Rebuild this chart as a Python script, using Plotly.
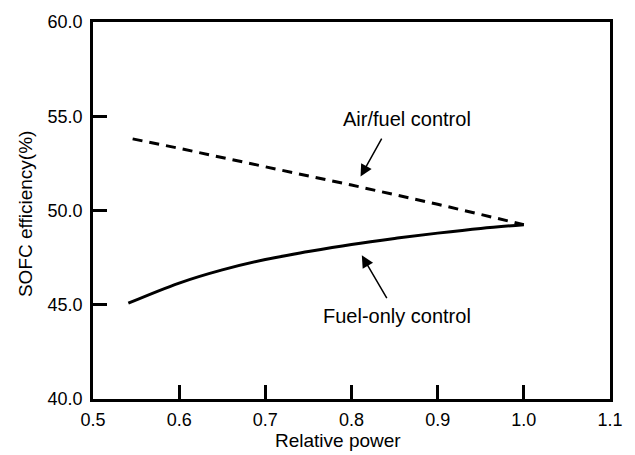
import plotly.graph_objects as go

# Data
fuel_only_x = [0.541, 0.60, 0.65, 0.70, 0.75, 0.80, 0.85, 0.90, 0.95, 1.00]
fuel_only_y = [45.08, 46.15, 46.85, 47.40, 47.82, 48.20, 48.52, 48.80, 49.05, 49.25]

air_fuel_x = [0.546, 0.60, 0.70, 0.80, 0.90, 1.00]
air_fuel_y = [53.80, 53.30, 52.32, 51.35, 50.33, 49.25]

x_ticks = [0.5, 0.6, 0.7, 0.8, 0.9, 1.0, 1.1]
x_tick_labels = ["0.5", "0.6", "0.7", "0.8", "0.9", "1.0", "1.1"]
y_ticks = [40, 45, 50, 55, 60]
y_tick_labels = ["40.0", "45.0", "50.0", "55.0", "60.0"]

FONT = "Liberation Sans, Arial, sans-serif"
L, R, T, B = 93, 611, 16, 399
PW, PH = R - L, B - T

fig = go.Figure()
fig.add_trace(go.Scatter(x=air_fuel_x, y=air_fuel_y, mode="lines",
                         line=dict(color="black", width=3, dash="10px,7px"),
                         showlegend=False))
fig.add_trace(go.Scatter(x=fuel_only_x, y=fuel_only_y, mode="lines",
                         line=dict(color="black", width=3, shape="spline"),
                         showlegend=False))

# Text labels
fig.add_annotation(x=0.864, y=54.83, text="Air/fuel control", showarrow=False,
                   font=dict(family=FONT, size=20, color="black"))
fig.add_annotation(x=0.853, y=44.39, text="Fuel-only control", showarrow=False,
                   font=dict(family=FONT, size=20, color="black"))
# Arrows
fig.add_annotation(x=0.8105, y=51.8, ax=0.836, ay=53.89, axref="x", ayref="y",
                   text="", showarrow=True, arrowhead=2, arrowsize=1.6,
                   arrowwidth=1.5, arrowcolor="black")
fig.add_annotation(x=0.812, y=47.62, ax=0.842, ay=45.27, axref="x", ayref="y",
                   text="", showarrow=True, arrowhead=2, arrowsize=1.6,
                   arrowwidth=1.5, arrowcolor="black")

# Axis titles
fig.add_annotation(xref="paper", yref="paper", x=(338 - L) / PW, y=-(441 - B) / PH,
                   xanchor="center", yanchor="middle", text="Relative power",
                   showarrow=False, font=dict(family=FONT, size=19, color="black"))
fig.add_annotation(xref="paper", yref="paper", x=-(L - 26) / PW,
                   y=(B - 211) / PH, text="SOFC efficiency(%)",
                   textangle=-90, showarrow=False, xanchor="center", yanchor="middle",
                   font=dict(family=FONT, size=19, color="black"))

fig.update_xaxes(range=[0.5, 1.1], tickvals=x_ticks, ticktext=x_tick_labels,
                 ticks="inside", ticklen=14, tickwidth=2.5, tickcolor="black",
                 showline=True, linewidth=2.5, linecolor="black", mirror=True,
                 showgrid=False, zeroline=False, ticklabelstandoff=3,
                 tickfont=dict(family=FONT, size=18, color="black"))
fig.update_yaxes(range=[40, 60], tickvals=y_ticks, ticktext=y_tick_labels,
                 ticks="inside", ticklen=14, tickwidth=2.5, tickcolor="black",
                 showline=True, linewidth=2.5, linecolor="black", mirror=True,
                 showgrid=False, zeroline=False, ticklabelstandoff=4,
                 tickfont=dict(family=FONT, size=18, color="black"))

fig.update_layout(width=635, height=455, margin=dict(l=L, r=635 - R, t=T, b=455 - B),
                  plot_bgcolor="white", paper_bgcolor="white")

fig.write_html("out.html")
